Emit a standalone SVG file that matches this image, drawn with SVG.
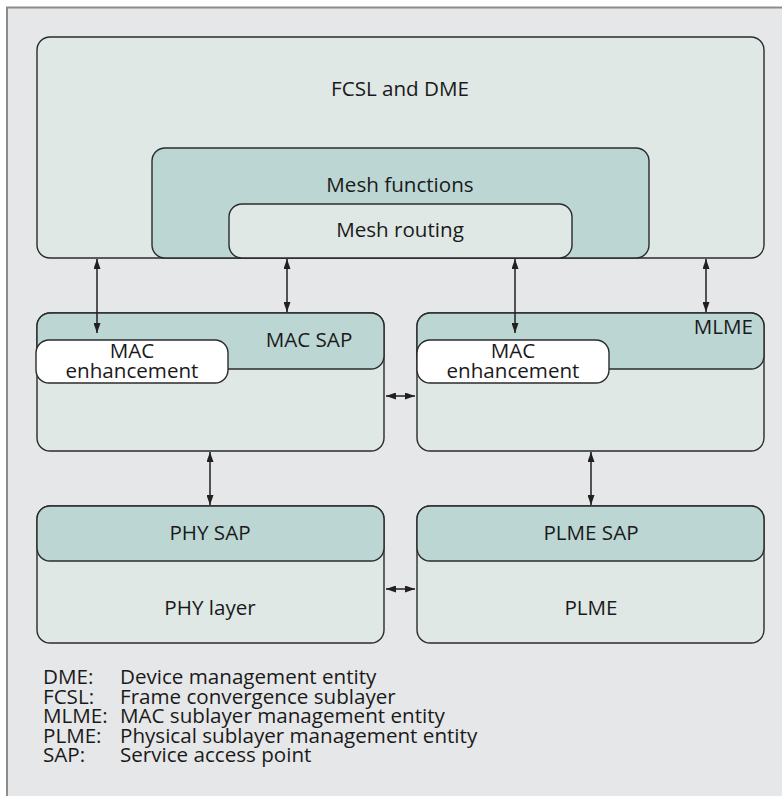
<svg xmlns="http://www.w3.org/2000/svg" width="782" height="796" viewBox="0 0 782 796">
  <defs>
    <style>
      .frame { fill: #e6e7e9; stroke: #8c8c8c; stroke-width: 2; }
      .light { fill: #dfe8e5; stroke: #2b2b2b; stroke-width: 1.4; }
      .band { fill: #bcd6d3; stroke: #2b2b2b; stroke-width: 1.4; }
      .white { fill: #ffffff; stroke: #2b2b2b; stroke-width: 1.4; }
      .lbl { font-family: "Open Sans", "Noto Sans", "Liberation Sans", sans-serif; font-size: 20.6px; fill: #1a1a1a; }
      .mid { text-anchor: middle; }
      .end { text-anchor: end; }
      .conn line { stroke: #231f20; stroke-width: 1.5; marker-start: url(#head); marker-end: url(#head); }
    </style>
    <marker id="head" viewBox="0 0 10 7" refX="10" refY="3.5" markerWidth="10" markerHeight="7" markerUnits="userSpaceOnUse" orient="auto-start-reverse">
      <path d="M0,0 L10,3.5 L0,7 z" fill="#231f20"/>
    </marker>
  </defs>

  <!-- background panel -->
  <rect class="frame" x="7" y="7.5" width="790" height="800"/>

  <!-- top: FCSL and DME with nested mesh blocks -->
  <g id="fcsl-dme">
    <rect class="light" x="37" y="37" width="727" height="221" rx="13"/>
    <text class="lbl mid" x="400" y="96">FCSL and DME</text>
  </g>
  <g id="mesh-functions">
    <rect class="band" x="152" y="148" width="497" height="110" rx="13"/>
    <text class="lbl mid" x="400" y="192">Mesh functions</text>
  </g>
  <g id="mesh-routing">
    <rect class="light" x="229" y="204" width="343" height="54" rx="13"/>
    <text class="lbl mid" x="400" y="237">Mesh routing</text>
  </g>

  <!-- MAC SAP block -->
  <g id="mac-sap">
    <rect class="light" x="37" y="313" width="347" height="138" rx="13"/>
    <rect class="band" x="37" y="313" width="347" height="56" rx="13"/>
    <text class="lbl mid" x="309" y="347">MAC SAP</text>
  </g>
  <g id="mac-enh-left">
    <rect class="white" x="36" y="340" width="192" height="43" rx="13"/>
    <text class="lbl mid" x="132" y="358">MAC</text>
    <text class="lbl mid" x="132" y="378">enhancement</text>
  </g>

  <!-- MLME block -->
  <g id="mlme">
    <rect class="light" x="417" y="313" width="347" height="138" rx="13"/>
    <rect class="band" x="417" y="313" width="347" height="56" rx="13"/>
    <text class="lbl end" x="753" y="334">MLME</text>
  </g>
  <g id="mac-enh-right">
    <rect class="white" x="417" y="340" width="192" height="43" rx="13"/>
    <text class="lbl mid" x="513" y="358">MAC</text>
    <text class="lbl mid" x="513" y="378">enhancement</text>
  </g>

  <!-- PHY block -->
  <g id="phy">
    <rect class="light" x="37" y="506" width="347" height="137" rx="13"/>
    <rect class="band" x="37" y="506" width="347" height="55" rx="13"/>
    <text class="lbl mid" x="210" y="540">PHY SAP</text>
    <text class="lbl mid" x="210" y="615">PHY layer</text>
  </g>

  <!-- PLME block -->
  <g id="plme">
    <rect class="light" x="417" y="506" width="347" height="137" rx="13"/>
    <rect class="band" x="417" y="506" width="347" height="55" rx="13"/>
    <text class="lbl mid" x="591" y="540">PLME SAP</text>
    <text class="lbl mid" x="591" y="615">PLME</text>
  </g>

  <!-- connectors -->
  <g id="connectors" class="conn">
    <line x1="97" y1="259" x2="97" y2="333"/>
    <line x1="287" y1="259" x2="287" y2="312"/>
    <line x1="515" y1="259" x2="515" y2="333"/>
    <line x1="706" y1="259" x2="706" y2="312"/>
    <line x1="386" y1="396" x2="415" y2="396"/>
    <line x1="210" y1="452" x2="210" y2="505"/>
    <line x1="591" y1="452" x2="591" y2="505"/>
    <line x1="386" y1="589" x2="415" y2="589"/>
  </g>

  <!-- legend -->
  <g id="legend" class="lbl">
    <text x="43" y="684">DME:</text><text x="120" y="684">Device management entity</text>
    <text x="43" y="703.5">FCSL:</text><text x="120" y="703.5">Frame convergence sublayer</text>
    <text x="43" y="723">MLME:</text><text x="120" y="723">MAC sublayer management entity</text>
    <text x="43" y="742.5">PLME:</text><text x="120" y="742.5">Physical sublayer management entity</text>
    <text x="43" y="762">SAP:</text><text x="120" y="762">Service access point</text>
  </g>
</svg>
